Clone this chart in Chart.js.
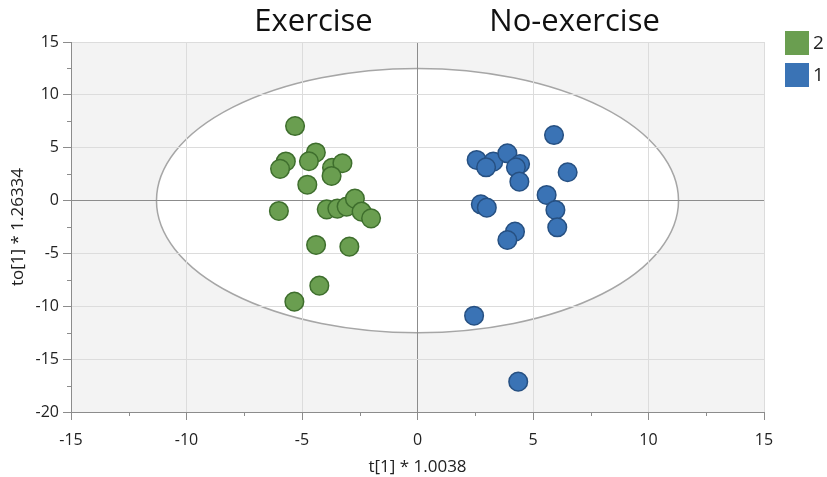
<!DOCTYPE html>
<html>
<head>
<meta charset="utf-8">
<script src="https://cdn.jsdelivr.net/npm/chart.js@4"></script>
<style>
  html, body { margin: 0; padding: 0; background: #ffffff; }
  #wrap { position: relative; width: 827px; height: 477px; }
</style>
</head>
<body>
<div id="wrap"><canvas id="c" width="827" height="477"></canvas></div>
<script>
// Group "2" (Exercise) scores
const exerciseT = [-5.3, -4.4, -5.7, -5.95, -4.7, -3.7, -3.25, -3.72, -4.77, -6.0, -3.93, -3.47, -3.07, -2.71, -2.42, -2.01, -4.39, -2.95, -4.25, -5.33];
const exerciseTo = [7.05, 4.55, 3.7, 3.0, 3.72, 3.1, 3.53, 2.33, 1.5, -0.98, -0.83, -0.76, -0.57, 0.18, -1.05, -1.68, -4.2, -4.36, -8.05, -9.56];

// Group "1" (No-exercise) scores
const noExerciseT = [5.91, 2.56, 3.28, 3.89, 2.97, 4.44, 4.26, 4.41, 6.5, 5.59, 5.97, 6.05, 2.74, 3.0, 4.22, 3.89, 2.45, 4.36];
const noExerciseTo = [6.2, 3.84, 3.68, 4.47, 3.15, 3.46, 3.15, 1.79, 2.68, 0.53, -0.89, -2.53, -0.35, -0.67, -2.94, -3.73, -10.89, -17.13];

const xTicks = [-15, -10, -5, 0, 5, 10, 15];
const yTicks = [-20, -15, -10, -5, 0, 5, 10, 15];
const groupTitles = ['Exercise', 'No-exercise'];
const groupTitleT = [-4.5, 6.8];
const legendLabels = ['2', '1'];

// Hotelling T2 ellipse half-axes (t, to)
const ellipseRadii = [11.3, 12.5];

const GREEN = '#6a9e50', GREEN_EDGE = '#3e6e2d';
const BLUE = '#3a73b5', BLUE_EDGE = '#265082';
const FONT = '"Open Sans", "Noto Sans", sans-serif';

const toPoints = (xs, ys) => xs.map((x, i) => ({ x, y: ys[i] }));

const isMajor = v => Math.abs(v % 5) < 1e-9;

const gridColor = ctx => {
  const v = ctx.tick ? ctx.tick.value : null;
  if (v === null) return 'rgba(0,0,0,0)';
  if (Math.abs(v) < 1e-9) return '#8c8c8c';
  return isMajor(v) ? '#dcdcdc' : 'rgba(0,0,0,0)';
};
const tickColor = ctx => (ctx.tick && isMajor(ctx.tick.value)) ? '#8c8c8c' : 'rgba(0,0,0,0)';

const backdrop = {
  id: 'backdrop',
  beforeDraw(chart) {
    const { ctx, chartArea: a, scales: { x, y } } = chart;
    ctx.save();
    ctx.fillStyle = '#f3f3f3';
    ctx.fillRect(a.left, a.top, a.right - a.left, a.bottom - a.top);
    const cx = x.getPixelForValue(0), cy = y.getPixelForValue(0);
    const rx = x.getPixelForValue(ellipseRadii[0]) - cx;
    const ry = cy - y.getPixelForValue(ellipseRadii[1]);
    ctx.beginPath();
    ctx.ellipse(cx, cy, rx, ry, 0, 0, Math.PI * 2);
    ctx.fillStyle = '#ffffff';
    ctx.fill();
    ctx.lineWidth = 1.5;
    ctx.strokeStyle = '#a6a6a6';
    ctx.stroke();
    ctx.restore();
  },
  afterDraw(chart) {
    const { ctx, chartArea: a, scales: { x, y } } = chart;
    ctx.save();
    // minor tick marks between the labelled ones
    ctx.strokeStyle = '#8c8c8c';
    ctx.lineWidth = 1;
    for (let v = -12.5; v < 15; v += 5) {
      const px = Math.round(x.getPixelForValue(v)) + 0.5;
      ctx.beginPath(); ctx.moveTo(px, a.bottom); ctx.lineTo(px, a.bottom + 4); ctx.stroke();
    }
    for (let v = -17.5; v < 15; v += 5) {
      const py = Math.round(y.getPixelForValue(v)) + 0.5;
      ctx.beginPath(); ctx.moveTo(a.left, py); ctx.lineTo(a.left - 4, py); ctx.stroke();
    }
    // group titles
    ctx.fillStyle = '#111111';
    ctx.font = '31px ' + FONT;
    ctx.textAlign = 'center';
    ctx.textBaseline = 'alphabetic';
    groupTitles.forEach((t, i) => ctx.fillText(t, x.getPixelForValue(groupTitleT[i]), 31));
    // legend
    const colors = [chart.data.datasets[0].backgroundColor, chart.data.datasets[1].backgroundColor];
    ctx.font = '19px ' + FONT;
    ctx.textAlign = 'left';
    ctx.textBaseline = 'middle';
    legendLabels.forEach((lab, i) => {
      const top = 31 + i * 32;
      ctx.fillStyle = colors[i];
      ctx.fillRect(785, top, 24, 24);
      ctx.fillStyle = '#222222';
      ctx.fillText(lab, 813, top + 13);
    });
    ctx.restore();
  }
};

new Chart(document.getElementById('c'), {
  type: 'scatter',
  data: {
    datasets: [
      {
        label: legendLabels[0],
        data: toPoints(exerciseT, exerciseTo),
        backgroundColor: GREEN,
        borderColor: GREEN_EDGE,
        borderWidth: 1.5,
        pointRadius: 9.3,
        pointHoverRadius: 9.3
      },
      {
        label: legendLabels[1],
        data: toPoints(noExerciseT, noExerciseTo),
        backgroundColor: BLUE,
        borderColor: BLUE_EDGE,
        borderWidth: 1.5,
        pointRadius: 9.3,
        pointHoverRadius: 9.3
      }
    ]
  },
  options: {
    responsive: false,
    animation: false,
    layout: { padding: { top: 42, right: 63, left: 0, bottom: 0 } },
    plugins: { legend: { display: false }, tooltip: { enabled: false } },
    scales: {
      x: {
        type: 'linear',
        min: xTicks[0], max: xTicks[xTicks.length - 1],
        afterFit: s => { s.height = 65; },
        afterBuildTicks: s => { s.ticks = [];
          for (let v = xTicks[0]; v <= xTicks[xTicks.length - 1] + 1e-9; v += 2.5) s.ticks.push({ value: v }); },
        border: { color: '#8c8c8c', width: 1 },
        grid: { color: gridColor, tickColor: tickColor, tickLength: 8, lineWidth: 1 },
        ticks: {
          padding: 11,
          color: '#222222',
          font: { family: FONT, size: 16 },
          maxRotation: 0,
          autoSkip: false,
          callback: v => xTicks.includes(v) ? String(v) : ''
        },
        title: { display: true, text: 't[1] * 1.0038', color: '#222222', font: { family: FONT, size: 17 }, padding: { top: 0, bottom: 0 } }
      },
      y: {
        type: 'linear',
        min: yTicks[0], max: yTicks[yTicks.length - 1],
        afterFit: s => { s.width = 71; },
        afterBuildTicks: s => { s.ticks = [];
          for (let v = yTicks[0]; v <= yTicks[yTicks.length - 1] + 1e-9; v += 2.5) s.ticks.push({ value: v }); },
        border: { color: '#8c8c8c', width: 1 },
        grid: { color: gridColor, tickColor: tickColor, tickLength: 8, lineWidth: 1 },
        ticks: {
          padding: 4,
          color: '#222222',
          font: { family: FONT, size: 16 },
          autoSkip: false,
          callback: v => yTicks.includes(v) ? String(v) : ''
        },
        title: { display: true, text: 'to[1] * 1.26334', color: '#222222', font: { family: FONT, size: 17 }, padding: { top: 8, bottom: 0 } }
      }
    }
  },
  plugins: [backdrop]
});
</script>
</body>
</html>
